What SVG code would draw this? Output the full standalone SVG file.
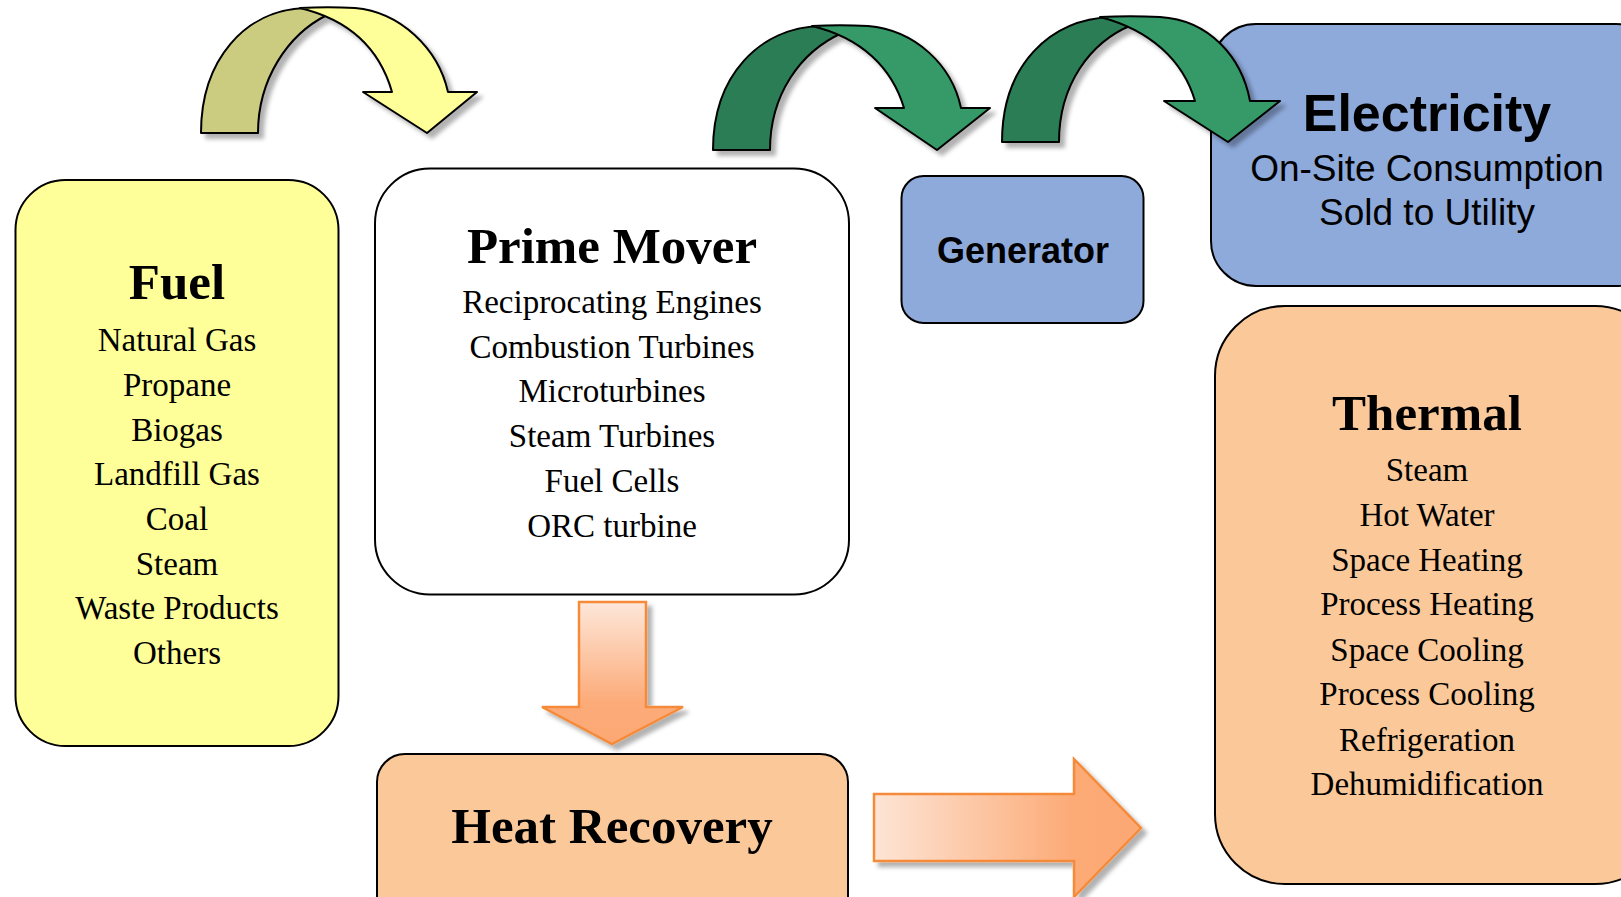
<svg xmlns="http://www.w3.org/2000/svg" width="1621" height="897" viewBox="0 0 1621 897">
<defs>
<style>
.box{stroke:#000;stroke-width:2}
.ser{font-family:"Liberation Serif",serif;text-anchor:middle;fill:#000}
.ttl{font-size:51px;font-weight:bold}
.itm{font-size:33px}
.san{font-family:"Liberation Sans",Arial,sans-serif;text-anchor:middle;fill:#000}
.arc{stroke:#000;stroke-width:2;stroke-linejoin:round}
.oarr{stroke:#f58a3a;stroke-width:2.5}
</style>
<filter id="sh" x="-20%" y="-20%" width="140%" height="140%">
<feDropShadow dx="5" dy="5" stdDeviation="2" flood-color="#000" flood-opacity="0.3"/>
</filter>
<linearGradient id="gDown" x1="0" y1="0" x2="0" y2="1">
<stop offset="0" stop-color="#fde7da"/>
<stop offset="0.7" stop-color="#fcab79"/>
<stop offset="1" stop-color="#fca874"/>
</linearGradient>
<linearGradient id="gRight" x1="0" y1="0" x2="1" y2="0">
<stop offset="0" stop-color="#fde5d6"/>
<stop offset="0.75" stop-color="#fcaa76"/>
<stop offset="1" stop-color="#fca874"/>
</linearGradient>
</defs>
<rect width="1621" height="897" fill="#fff"/>

<g id="fuel">
<rect class="box" x="15.5" y="180" width="323" height="566" rx="50" fill="#ffff99"/>
<text class="ser ttl" x="177" y="299" font-size="49">Fuel</text>
<text class="ser itm" x="177" y="351">Natural Gas</text>
<text class="ser itm" x="177" y="396">Propane</text>
<text class="ser itm" x="177" y="441">Biogas</text>
<text class="ser itm" x="177" y="485">Landfill Gas</text>
<text class="ser itm" x="177" y="530">Coal</text>
<text class="ser itm" x="177" y="575">Steam</text>
<text class="ser itm" x="177" y="619">Waste Products</text>
<text class="ser itm" x="177" y="664">Others</text>
</g>

<g id="prime-mover">
<rect class="box" x="375" y="168.5" width="474" height="426" rx="55" fill="#fff"/>
<text class="ser ttl" x="612" y="263">Prime Mover</text>
<text class="ser itm" x="612" y="313">Reciprocating Engines</text>
<text class="ser itm" x="612" y="358">Combustion Turbines</text>
<text class="ser itm" x="612" y="402">Microturbines</text>
<text class="ser itm" x="612" y="447">Steam Turbines</text>
<text class="ser itm" x="612" y="492">Fuel Cells</text>
<text class="ser itm" x="612" y="537">ORC turbine</text>
</g>

<g id="generator">
<rect class="box" x="901.5" y="176" width="242" height="147" rx="22" fill="#8eaadb"/>
<text class="san" x="1023" y="263" font-size="36" font-weight="bold">Generator</text>
</g>

<g id="electricity">
<rect class="box" x="1211" y="24" width="450" height="262" rx="45" fill="#8eaadb"/>
<text class="san" x="1427" y="131" font-size="52" font-weight="bold">Electricity</text>
<text class="san" x="1427" y="181" font-size="37">On-Site Consumption</text>
<text class="san" x="1427" y="225" font-size="37">Sold to Utility</text>
</g>

<g id="thermal">
<rect class="box" x="1215" y="306" width="450" height="578" rx="70" fill="#fbc999"/>
<text class="ser ttl" x="1427" y="430">Thermal</text>
<text class="ser itm" x="1427" y="481">Steam</text>
<text class="ser itm" x="1427" y="526">Hot Water</text>
<text class="ser itm" x="1427" y="571">Space Heating</text>
<text class="ser itm" x="1427" y="615">Process Heating</text>
<text class="ser itm" x="1427" y="661">Space Cooling</text>
<text class="ser itm" x="1427" y="705">Process Cooling</text>
<text class="ser itm" x="1427" y="751">Refrigeration</text>
<text class="ser itm" x="1427" y="795">Dehumidification</text>
</g>

<g id="heat-recovery">
<rect class="box" x="377" y="754" width="471" height="170" rx="28" fill="#fbc999"/>
<text class="ser ttl" x="612" y="843" font-size="52">Heat Recovery</text>
</g>

<g id="connectors">
<g filter="url(#sh)">
<path class="arc" fill="#cccc80" d="M201,133 C201,60 245,10 305,8 L327,15 C287,35 258,80 258,133 Z"/>
<path class="arc" fill="#ffff99" d="M300,8 C318,7 338,7 355,8 C400,12 438,48 448,92 L477,92 L427,133 L363,92 L392,92 C380,50 350,20 300,8 Z"/>
</g>
<g filter="url(#sh)">
<path class="arc" fill="#2a7d55" d="M713,150 C713,75 760,28 820,26 L842,33 C800,52 770,95 770,150 Z"/>
<path class="arc" fill="#349a68" d="M812,26 C830,25 850,25 868,26 C915,30 952,65 961,108 L990,108 L937,150 L875,108 L904,108 C892,68 862,38 812,26 Z"/>
</g>
<g filter="url(#sh)">
<path class="arc" fill="#2a7d55" d="M1002,142 C1002,65 1050,19 1112,17 L1132,25 C1090,42 1059,85 1059,142 Z"/>
<path class="arc" fill="#349a68" d="M1100,17 C1120,16 1140,16 1160,17 C1210,20 1242,58 1250,101 L1280,101 L1228,142 L1164,101 L1195,101 C1183,60 1150,30 1100,17 Z"/>
</g>
<path class="oarr" filter="url(#sh)" fill="url(#gDown)" d="M579,602 L646,602 L646,707 L683,707 L612,744 L542,707 L579,707 Z"/>
<path class="oarr" filter="url(#sh)" fill="url(#gRight)" d="M874,794 L1074,794 L1074,759 L1141,828 L1074,897 L1074,861 L874,861 Z"/>
</g>
</svg>
